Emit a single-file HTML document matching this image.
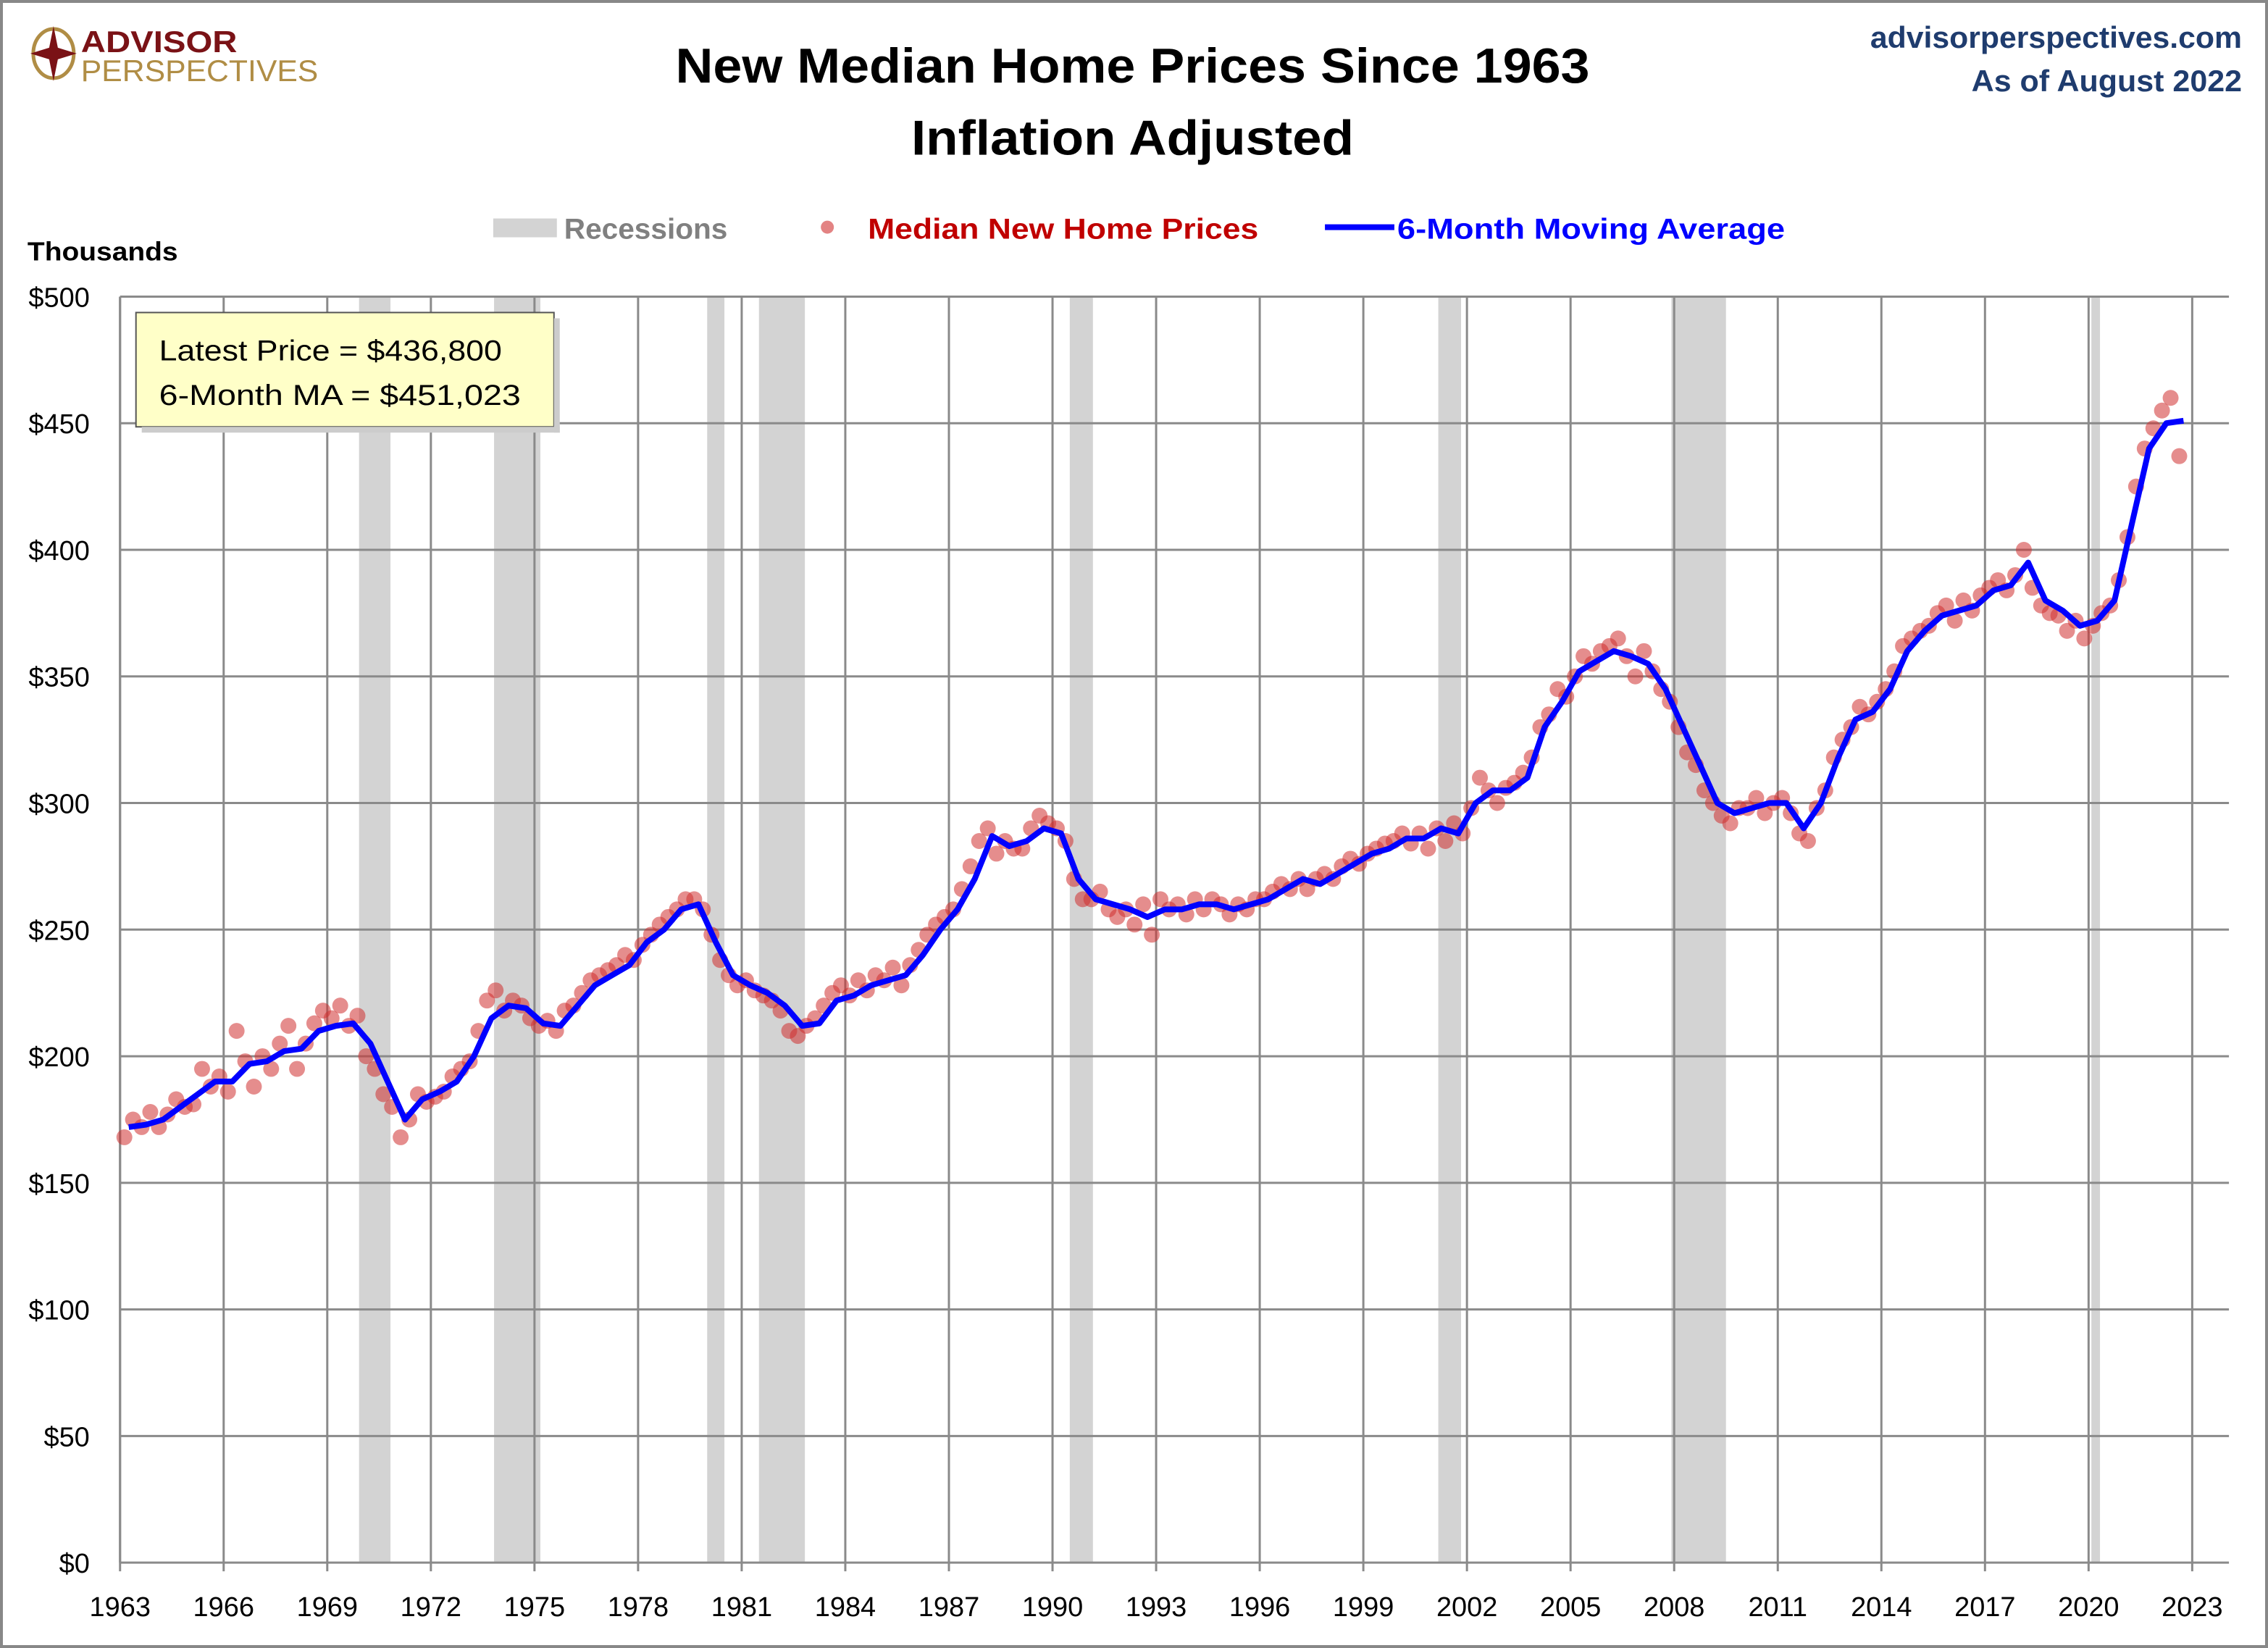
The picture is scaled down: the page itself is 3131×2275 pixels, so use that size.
<!DOCTYPE html>
<html><head><meta charset="utf-8"><style>
html,body{margin:0;padding:0;background:#fff}
svg{display:block}
text{font-family:"Liberation Sans",sans-serif}
</style></head><body>
<svg id="chart" width="3131" height="2275" viewBox="0 0 1568 1139" preserveAspectRatio="none" xmlns="http://www.w3.org/2000/svg">
<rect x="1" y="1" width="1566" height="1137" fill="#fff" stroke="#888" stroke-width="2"/>
<g>
<ellipse cx="37" cy="37" rx="14" ry="17" fill="none" stroke="#b08d45" stroke-width="2.5"/>
<polygon points="37,18 40,33 53,37 40,41 37,56 34,41 21,37 34,33" fill="#7a1216"/>
<text x="56" y="36" font-size="21" font-weight="bold" fill="#7a1216" textLength="108" lengthAdjust="spacingAndGlyphs">ADVISOR</text>
<text x="56" y="56" font-size="21" fill="#b08d45" textLength="164" lengthAdjust="spacingAndGlyphs">PERSPECTIVES</text>
</g>
<text x="783" y="57" font-size="34" font-weight="bold" text-anchor="middle" textLength="632" lengthAdjust="spacingAndGlyphs">New Median Home Prices Since 1963</text>
<text x="783" y="107" font-size="34" font-weight="bold" text-anchor="middle" textLength="306" lengthAdjust="spacingAndGlyphs">Inflation Adjusted</text>
<text x="1550" y="33" font-size="21" font-weight="bold" fill="#1f3c6e" text-anchor="end" textLength="257" lengthAdjust="spacingAndGlyphs">advisorperspectives.com</text>
<text x="1550" y="63" font-size="21" font-weight="bold" fill="#1f3c6e" text-anchor="end" textLength="187" lengthAdjust="spacingAndGlyphs">As of August 2022</text>
<g>
<g><rect x="341" y="151" width="44" height="13" fill="#d3d3d3"/><text x="390" y="165" font-size="20" font-weight="bold" fill="#808080" textLength="113" lengthAdjust="spacingAndGlyphs">Recessions</text></g>
<g><circle cx="572" cy="157" r="4.5" fill="#d03030" fill-opacity="0.6"/><text x="600" y="165" font-size="20" font-weight="bold" fill="#c00000" textLength="270" lengthAdjust="spacingAndGlyphs">Median New Home Prices</text></g>
<g><line x1="916" y1="157" x2="964" y2="157" stroke="#0000ff" stroke-width="4"/><text x="966" y="165" font-size="20" font-weight="bold" fill="#0000ff" textLength="268" lengthAdjust="spacingAndGlyphs">6-Month Moving Average</text></g>
</g>
<text x="19" y="180" font-size="18" font-weight="bold" textLength="104" lengthAdjust="spacingAndGlyphs">Thousands</text>
<g id="plot"></g>
<g>
<rect x="94" y="216" width="289" height="79" fill="#ffffc8" stroke="#555" stroke-width="1"/>
<rect x="383" y="220" width="4" height="79" fill="#ccc"/><rect x="98" y="295" width="289" height="4" fill="#ccc"/>
<text x="110" y="249" font-size="20" textLength="237" lengthAdjust="spacingAndGlyphs">Latest Price = $436,800</text>
<text x="110" y="280" font-size="20" textLength="250" lengthAdjust="spacingAndGlyphs">6-Month MA = $451,023</text>
</g>
</svg>
<script>
const recessionStarts=[1969.92,1973.83,1980.0,1981.5,1990.5,2001.17,2007.92,2020.08];
const recessionEnds=[1970.83,1975.17,1980.5,1982.83,1991.17,2001.83,2009.5,2020.33];
const yTicks=[0,50,100,150,200,250,300,350,400,450,500];
const xTicks=[1963,1966,1969,1972,1975,1978,1981,1984,1987,1990,1993,1996,1999,2002,2005,2008,2011,2014,2017,2020,2023];
// 6-month moving average, half-year steps starting 1963.0 (thousands)
const maValues=[172,173,175,180,185,190,190,197,198,202,203,210,212,213,205,190,175,183,186,190,200,215,220,219,213,212,220,228,232,236,245,250,258,260,245,232,228,225,220,212,213,222,224,228,230,232,240,250,258,270,287,283,285,290,288,270,262,260,258,255,258,258,260,260,258,260,262,266,270,268,272,276,280,282,286,286,290,288,300,305,305,310,330,340,352,356,360,358,355,345,330,315,300,296,298,300,300,290,300,318,333,336,345,360,368,374,376,378,384,386,395,380,376,370,372,380,410,440,450,451];
// median new home prices, quarterly starting 1963.0 (thousands)
const priceValues=[168,175,172,178,172,177,183,180,181,195,188,192,186,210,198,188,200,195,205,212,195,205,213,218,215,220,212,216,200,195,185,180,168,175,185,182,184,186,192,195,198,210,222,226,218,222,220,215,212,214,210,218,220,225,230,232,234,236,240,238,244,248,252,255,258,262,262,258,248,238,232,228,230,226,224,222,218,210,208,212,215,220,225,228,224,230,226,232,230,235,228,236,242,248,252,255,258,266,275,285,290,280,285,282,282,290,295,292,290,285,270,262,262,265,258,255,258,252,260,248,262,258,260,256,262,258,262,260,256,260,258,262,262,265,268,266,270,266,270,272,270,275,278,276,280,282,284,285,288,284,288,282,290,285,292,288,298,310,305,300,306,308,312,318,330,335,345,342,350,358,355,360,362,365,358,350,360,352,345,340,330,320,315,305,300,295,292,298,298,302,296,300,302,296,288,285,298,305,318,325,330,338,335,340,345,352,362,365,368,370,375,378,372,380,376,382,385,388,384,390,400,385,378,375,374,368,372,365,370,375,378,388,405,425,440,448,455,460,437];
const X0=83,X1=1515.6,XMIN=1963,XMAX=2023,Y0=1080,Y1=205,PL=83,PR=1541;
const xs=v=>X0+(v-XMIN)*(X1-X0)/(XMAX-XMIN);
const ys=v=>Y0-(v-0)*(Y0-Y1)/500;
const NS='http://www.w3.org/2000/svg';
const plot=document.getElementById('plot');


function mk(tag,attrs,parent){const e=document.createElementNS(NS,tag);for(const k in attrs)e.setAttribute(k,attrs[k]);(parent||plot).appendChild(e);return e;}
recessionStarts.forEach((s,i)=>{
  const r=mk('rect',{x:xs(s),y:Y1,width:xs(recessionEnds[i])-xs(s),height:Y0-Y1,fill:'#d3d3d3'});
  
  
});
yTicks.forEach(t=>{
  const l=mk('line',{x1:PL,x2:PR,y1:ys(t),y2:ys(t),stroke:'#8a8a8a','stroke-width':1.5});
  
  
  const tx=mk('text',{x:62,y:ys(t)+7,'font-size':19,'text-anchor':'end'});
  tx.textContent='$'+t;
  
  
});
xTicks.forEach(t=>{
  const l=mk('line',{x1:xs(t),x2:xs(t),y1:Y1,y2:Y0+6,stroke:'#8a8a8a','stroke-width':1.5});
  
  
  const tx=mk('text',{x:xs(t),y:Y0+37,'font-size':19,'text-anchor':'middle'});
  tx.textContent=t;
  
  
});
mk('line',{x1:PL,x2:PL,y1:Y1,y2:Y0,stroke:'#8a8a8a','stroke-width':1.5});
priceValues.forEach((v,i)=>{
  const c=mk('circle',{cx:xs(XMIN+i*0.25+0.125),cy:ys(v),r:5.5,fill:'#d03030','fill-opacity':0.55});
  
  
});
let d='';
maValues.forEach((v,i)=>{d+=(i?'L':'M')+xs(XMIN+i*0.5+0.25).toFixed(1)+','+ys(v).toFixed(1);});
const p=mk('path',{d:d,fill:'none',stroke:'#0000ff','stroke-width':4,'stroke-linejoin':'round'});


</script>
</body></html>
